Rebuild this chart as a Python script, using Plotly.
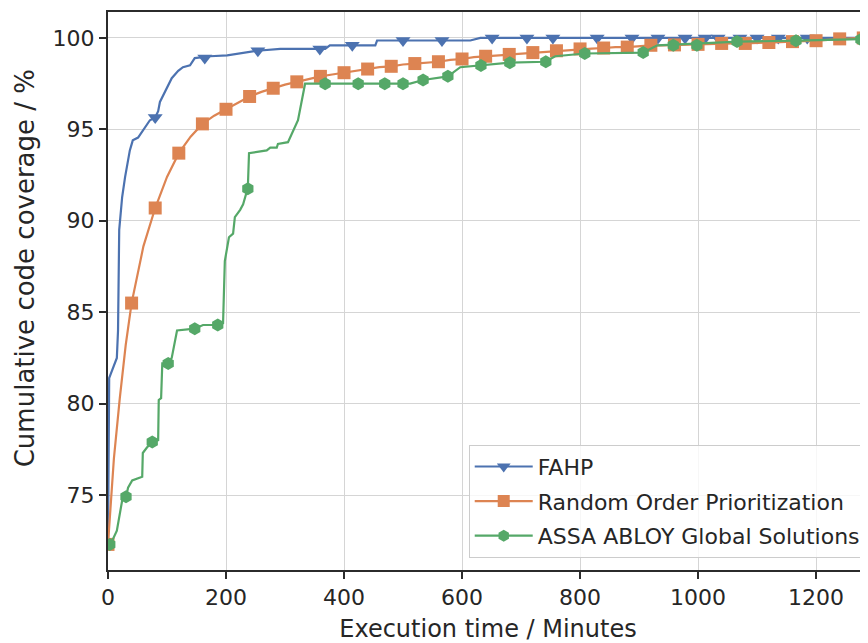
import plotly.graph_objects as go

# ---------------- data ----------------
fahp_x = [0, 2, 5, 15, 17, 19, 24, 29, 37, 42, 51, 58, 63, 71, 80, 85, 88, 97, 108, 119, 127,
          139, 147, 173, 202, 253, 292, 356, 368, 376, 453, 456, 614, 631, 1290]
fahp_y = [72.3, 81.4, 81.65, 82.5, 84.0, 89.5, 91.3, 92.4, 93.85, 94.4, 94.55, 94.9, 95.1, 95.5,
          95.65, 96.0, 96.5, 97.1, 97.8, 98.2, 98.4, 98.5, 98.9, 99.0, 99.05, 99.3, 99.4, 99.4,
          99.4, 99.6, 99.6, 99.86, 99.86, 100.0, 100.0]
fahp_mark_x = [80, 164, 254, 359, 414, 500, 566, 651, 710, 754, 829, 888, 932, 978, 1012, 1034,
               1071, 1100, 1136, 1185]
fahp_mark_y = [95.65, 98.9, 99.3, 99.4, 99.6, 99.86, 99.86, 100, 100, 100, 100, 100, 100, 100,
               100, 100, 100, 100, 100, 100]

rop_x = [0, 5, 10, 20, 30, 40, 60, 80, 100, 120, 140, 160, 180, 200, 220, 240, 260, 280, 300,
         320, 340, 360, 380, 400, 420, 440, 460, 480, 500, 520, 540, 560, 580, 600, 620, 640,
         660, 680, 700, 720, 740, 760, 780, 800, 820, 840, 860, 880, 900, 920, 940, 960, 980,
         1000, 1020, 1040, 1060, 1080, 1100, 1120, 1140, 1160, 1180, 1200, 1220, 1240, 1260,
         1280, 1290]
rop_y = [72.3, 74.6, 77.0, 80.3, 83.2, 85.5, 88.6, 90.7, 92.4, 93.7, 94.6, 95.3, 95.75, 96.1,
         96.45, 96.8, 97.05, 97.25, 97.45, 97.6, 97.75, 97.9, 98.0, 98.1, 98.2, 98.3, 98.4,
         98.45, 98.55, 98.6, 98.65, 98.7, 98.8, 98.85, 98.95, 99.0, 99.05, 99.1, 99.15, 99.2,
         99.25, 99.3, 99.35, 99.4, 99.42, 99.45, 99.5, 99.5, 99.55, 99.6, 99.6, 99.62, 99.63,
         99.65, 99.7, 99.7, 99.7, 99.7, 99.72, 99.75, 99.78, 99.8, 99.82, 99.85, 99.9, 99.95,
         99.98, 100.0, 100.0]
rop_mark_step = 40  # minutes between markers

assa_x = [2, 8.5, 15, 20, 24, 30.5, 34, 41, 58, 59, 66, 75, 85, 86, 90, 92, 102, 108, 117, 147,
          161, 186, 195, 198, 205, 212, 215, 224, 229, 237, 239, 269, 275, 286, 288, 305, 322,
          334, 512, 534, 558, 576, 597, 631, 681, 741, 758, 808, 907, 931, 1025, 1068, 1166,
          1278, 1290]
assa_y = [72.3, 72.6, 73.05, 74.0, 74.7, 74.9, 75.4, 75.8, 76.0, 77.3, 77.6, 77.9, 78.0, 80.2,
          80.3, 82.2, 82.2, 82.5, 84.0, 84.1, 84.3, 84.3, 84.4, 87.8, 89.1, 89.3, 90.2, 90.6,
          90.9, 91.8, 93.7, 93.85, 94.0, 94.0, 94.2, 94.3, 95.5, 97.5, 97.5, 97.7, 97.8, 97.9,
          98.4, 98.5, 98.65, 98.7, 99.0, 99.15, 99.2, 99.6, 99.75, 99.8, 99.85, 99.92, 99.95]
assa_mark_x = [3, 30.5, 75, 102, 147, 186, 237, 368, 424, 469, 500, 534, 576, 632, 681, 742,
               808, 907, 958, 998, 1066, 1166, 1276]
assa_mark_y = [72.3, 74.9, 77.9, 82.2, 84.1, 84.3, 91.75, 97.5, 97.5, 97.5, 97.5, 97.7, 97.9,
               98.5, 98.65, 98.7, 99.15, 99.2, 99.6, 99.6, 99.8, 99.85, 99.92]

x_ticks = [0, 200, 400, 600, 800, 1000, 1200]
y_ticks = [75, 80, 85, 90, 95, 100]

names = ["FAHP", "Random Order Prioritization", "ASSA ABLOY Global Solutions"]
colors = ["#4C72B0", "#DD8452", "#55A868"]
symbols = ["triangle-down", "square", "hexagon"]

rop_mark_x = [x for x in rop_x if x % rop_mark_step == 0]
rop_mark_y = [y for x, y in zip(rop_x, rop_y) if x % rop_mark_step == 0]

series = [
    (fahp_x, fahp_y, fahp_mark_x, fahp_mark_y),
    (rop_x, rop_y, rop_mark_x, rop_mark_y),
    (assa_x, assa_y, assa_mark_x, assa_mark_y),
]

fig = go.Figure()
for (lx, ly, mx, my), name, c, s in zip(series, names, colors, symbols):
    fig.add_trace(go.Scatter(x=lx, y=ly, mode="lines", line=dict(color=c, width=2.2),
                             showlegend=False, legendgroup=name, hoverinfo="skip"))
    fig.add_trace(go.Scatter(x=mx, y=my, mode="markers",
                             marker=dict(color=c, symbol=s, size=13, line=dict(width=0)),
                             showlegend=False, legendgroup=name))
    fig.add_trace(go.Scatter(x=[None], y=[None], mode="lines+markers", name=name,
                             line=dict(color=c, width=2.2),
                             marker=dict(color=c, symbol=s, size=12), legendgroup=name))

font_family = "DejaVu Sans"
text_color = "#262626"
axis_common = dict(
    showgrid=True, gridcolor="#d5d5d5", gridwidth=1.3,
    showline=True, linecolor="#2b2b2b", linewidth=2,
    ticks="outside", ticklen=7, tickwidth=1.8, tickcolor="#2b2b2b",
    tickfont=dict(family=font_family, size=22, color=text_color),
    zeroline=False,
)

fig.update_layout(
    width=860, height=635,
    margin=dict(l=100, r=0, t=4, b=73),
    paper_bgcolor="white", plot_bgcolor="white",
    font=dict(family=font_family, color=text_color),
    xaxis=dict(range=[0, 1288], tickvals=x_ticks, mirror=True,
               title=dict(text="Execution time / Minutes",
                          font=dict(family=font_family, size=24, color=text_color),
                          standoff=12),
               **axis_common),
    yaxis=dict(range=[70.9, 101.42], tickvals=y_ticks, **axis_common),
    legend=dict(x=0.997, xanchor="right", y=0.022, yanchor="bottom",
                bgcolor="rgba(255,255,255,0.8)", bordercolor="#cccccc", borderwidth=1,
                itemwidth=58, tracegroupgap=3,
                font=dict(family=font_family, size=22, color=text_color)),
    annotations=[dict(text="Cumulative code coverage / %", textangle=-90,
                      xref="paper", yref="paper", x=-0.109, y=0.541,
                      xanchor="center", yanchor="middle", showarrow=False,
                      font=dict(family=font_family, size=26, color=text_color))],
)

fig.write_html("out.html")
